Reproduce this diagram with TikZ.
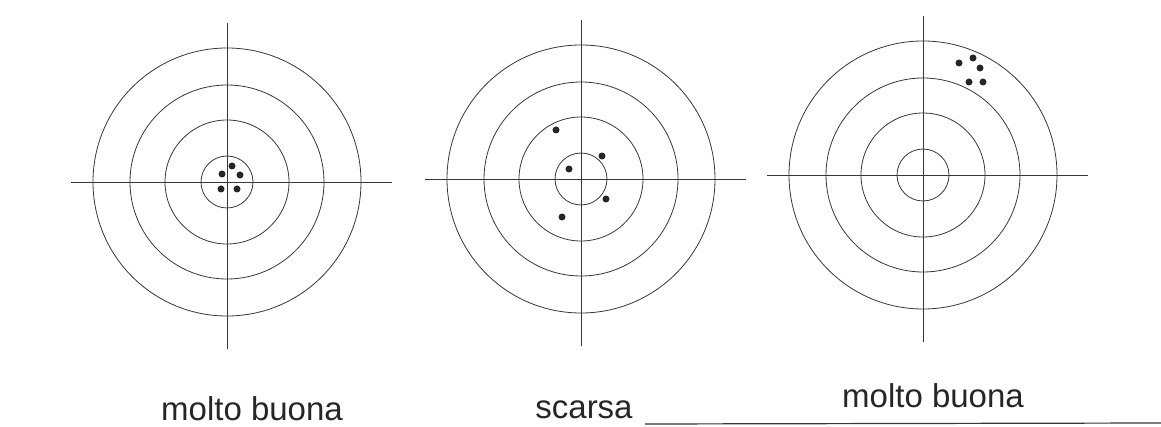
\documentclass[tikz,border=0pt]{standalone}
\usepackage{fontspec}
\setmainfont{Liberation Sans}
\usetikzlibrary{positioning,calc}
\definecolor{inkgray}{RGB}{55,55,55}

\begin{document}
\begin{tikzpicture}[x=1pt,y=-1pt,every node/.style={font=\fontsize{33}{38}\selectfont, text=black!85}]
  \tikzstyle{ring}=[draw=inkgray, line width=0.8pt]
  \tikzstyle{hair}=[draw=inkgray, line width=0.7pt]
  \tikzstyle{shot}=[circle, fill=black!85, inner sep=0pt, minimum size=7pt]
  \useasboundingbox (0,0) rectangle (1161,427);
  % target centres
  \coordinate (good) at (227,182);
  \coordinate (poor) at (581,179);
  \coordinate (off) at (923,175);
  % rings and cross hairs
  \foreach \c in {good,poor,off} {
    \foreach \r in {26,62,97,134}
      \draw[ring] (\c) circle [radius=\r];
    \draw[hair] ($(\c)+(-156,0)$) -- ($(\c)+(165,0)$);
    \draw[hair] ($(\c)+(0,-159)$) -- ($(\c)+(0,167)$);
  }
  % shots, tight group in the centre
  \node[shot] (g1) at ($(good)+(5,-16)$) {};
  \node[shot] (g2) at ($(good)+(-5,-8)$) {};
  \node[shot] (g3) at ($(good)+(13,-7)$) {};
  \node[shot] (g4) at ($(good)+(-6,7)$) {};
  \node[shot] (g5) at ($(good)+(10,7)$) {};
  % shots, scattered
  \node[shot] (p1) at ($(poor)+(-25,-49)$) {};
  \node[shot] (p2) at ($(poor)+(21,-23)$) {};
  \node[shot] (p3) at ($(poor)+(-12,-10)$) {};
  \node[shot] (p4) at ($(poor)+(25,20)$) {};
  \node[shot] (p5) at ($(poor)+(-19,38)$) {};
  % shots, tight group off centre
  \node[shot] (o1) at ($(off)+(36,-112)$) {};
  \node[shot] (o2) at ($(off)+(50,-117)$) {};
  \node[shot] (o3) at ($(off)+(57,-107)$) {};
  \node[shot] (o4) at ($(off)+(46,-93)$) {};
  \node[shot] (o5) at ($(off)+(60,-93)$) {};
  % labels
  \node[anchor=base] (lgood) at (252,420) {molto buona};
  \node[anchor=base] (lpoor) at (584,418) {scarsa};
  \node[anchor=base] (loff) at (933,407) {molto buona};
  % rule under the last label
  \coordinate (ruleL) at (645,424);
  \coordinate (ruleR) at (1161,423);
  \draw[inkgray, line width=1.2pt] (ruleL) -- (ruleR);
\end{tikzpicture}
\end{document}
